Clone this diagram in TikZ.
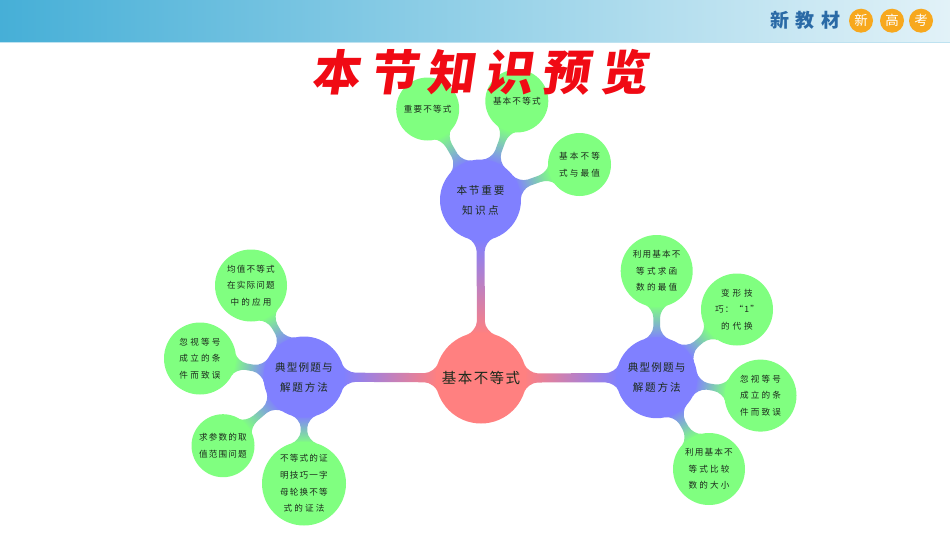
\documentclass[tikz,border=0pt]{standalone}
\usepackage{fontspec}
\setmainfont{Noto Sans CJK SC}
\usetikzlibrary{calc,backgrounds}
\definecolor{rootc}{HTML}{FF8080}
\definecolor{hubc}{HTML}{8080FF}
\definecolor{leafc}{HTML}{80FF80}
\definecolor{inkc}{HTML}{1C2A1C}
\definecolor{brandc}{HTML}{2A6AA6}
\definecolor{titlec}{HTML}{F00A14}
\definecolor{bandl}{HTML}{46AFD7}
\definecolor{bandm}{HTML}{8CD0E9}
\definecolor{bandr}{HTML}{E2F2F8}
\definecolor{bandline}{HTML}{BEE2F0}
\definecolor{badgec}{HTML}{F7A81E}
\newcommand\LS[2]{{\addfontfeature{LetterSpace=#1}#2}}
\newcommand\Lv[1]{\LS{13.4}{#1}}
\newcommand\Liv[1]{\LS{25.6}{#1}}
\newcommand\Liii[1]{\LS{33.7}{#1}}
\newcommand\Hv[1]{\LS{11}{#1}}
\newcommand\Hiv[1]{\LS{17}{#1}}
\newcommand\Hiii[1]{\LS{23}{#1}}
% tapered gradient connector: node A, radius, colour, node B, radius, colour, neck half width
\newcommand\branch[7]{%
  \path let \p1=($(#4)-(#1)$), \n1={atan2(\y1,\x1)}, \n2={veclen(\x1,\y1)} in
    \pgfextra{\xdef\brAng{\n1}\xdef\brLen{\n2}};
  \pgfmathsetmacro\brD{\brLen/1pt}
  \pgfmathsetmacro\brGap{\brD-#2-#5}
  \pgfmathsetmacro\brL{min(\brGap*0.42,11)}
  \pgfmathsetmacro\fA{#2*0.3}
  \pgfmathsetmacro\fB{#5*0.3}
  \pgfmathsetmacro\xA{sqrt(#2*#2-\fA*\fA)}
  \pgfmathsetmacro\xB{\brD-sqrt(#5*#5-\fB*\fB)}
  \pgfmathsetmacro\kA{0.45*(\fA-#7)}
  \pgfmathsetmacro\kB{0.45*(\fB-#7)}
  \pgfmathsetmacro\cAx{\xA+\kA*0.3}
  \pgfmathsetmacro\cAy{\fA-\kA*0.95}
  \pgfmathsetmacro\cBx{\xB-\kB*0.3}
  \pgfmathsetmacro\cBy{\fB-\kB*0.95}
  \pgfmathsetmacro\nA{#2+\brL}
  \pgfmathsetmacro\nB{\brD-#5-\brL}
  \pgfmathsetmacro\mA{#2+\brL*0.5}
  \pgfmathsetmacro\mB{\brD-#5-\brL*0.5}
  \begin{pgfonlayer}{background}
    \draw[line width=3pt,#3!50!#6] (#1) -- (#4);
    \begin{scope}[x=1pt,y=1pt,transform canvas={shift={(#1)},rotate=\brAng}]
      \shade[left color=#3,right color=#6]
        (\xA,\fA) .. controls (\cAx,\cAy) and (\mA,#7) .. (\nA,#7)
        -- (\nB,#7) .. controls (\mB,#7) and (\cBx,\cBy) .. (\xB,\fB)
        -- (\xB,-\fB) .. controls (\cBx,-\cBy) and (\mB,-#7) .. (\nB,-#7)
        -- (\nA,-#7) .. controls (\mA,-#7) and (\cAx,-\cAy) .. (\xA,-\fA) -- cycle;
    \end{scope}
  \end{pgfonlayer}}
\tikzset{
  leafa/.style={circle,fill=leafc,inner sep=0pt,minimum size=63pt,text=inkc,align=center,font=\fontsize{8.6}{16.7}\selectfont},
  leafb/.style={leafa,minimum size=72pt},
  leafd/.style={leafa,minimum size=84pt},
  hubn/.style={circle,fill=hubc,inner sep=0pt,minimum size=81pt,text=inkc,align=center,font=\fontsize{10.6}{20}\selectfont},
  rootn/.style={circle,fill=rootc,inner sep=0pt,minimum size=91pt,text=inkc,align=center,font=\fontsize{14.5}{18}\selectfont},
  badge/.style={circle,fill=badgec,inner sep=0pt,minimum size=24pt,text=white,font=\fontsize{13.5}{14}\selectfont},
  brand/.style={inner sep=0pt,text=brandc,font=\fontsize{19}{20}\selectfont\bfseries},
}
\begin{document}
\begin{tikzpicture}[x=1pt,y=-1pt]
\useasboundingbox (0,0) rectangle (950,535);
\begin{pgfonlayer}{background}
\fill[white] (0,0) rectangle (950,535);
\end{pgfonlayer}
% header band
\shade[left color=bandl,middle color=bandm,right color=bandr] (0,0) rectangle (950,42);
\fill[bandline] (0,42) rectangle (950,43.2);
\node[brand] (b1) at (779.5,20) {新};
\node[brand] (b2) at (804.5,20) {教};
\node[brand] (b3) at (831,20) {材};
\node[badge] (c1) at (861,20.7) {新};
\node[badge] (c2) at (892,20.7) {高};
\node[badge] (c3) at (921,20.7) {考};
% root and hubs
\node[rootn] (root) at (481,378) {\LS{10}{基本不等式}};
\node[hubn] (top) at (480.5,200) {\Hiv{本节重要}\\\Hiii{知识点}};
\node[hubn] (left) at (304,377) {\Hv{典型例题与}\\\Hiv{解题方法}};
\node[hubn] (right) at (656.7,377.7) {\Hv{典型例题与}\\\Hiv{解题方法}};
% top leaves
\node[leafa] (t1) at (427.7,109) {\Lv{重要不等式}};
\node[leafa] (t2) at (516.8,101) {\Lv{基本不等式}};
\node[leafa] (t3) at (579.5,164.5) {\Liv{基本不等}\\\Liv{式与最值}};
% left leaves
\node[leafb] (l1) at (251,285.5) {\Lv{均值不等式}\\\Lv{在实际问题}\\\Liv{中的应用}};
\node[leafb] (l2) at (200,358.5) {\Liv{忽视等号}\\\Liv{成立的条}\\\Liv{件而致误}};
\node[leafa] (l3) at (223,445.7) {\Lv{求参数的取}\\\Lv{值范围问题}};
\node[leafd] (l4) at (304,483.5) {\Lv{不等式的证}\\\Lv{明技巧一字}\\\Lv{母轮换不等}\\\Liv{式的证法}};
% right leaves
\node[leafb] (r1) at (656.7,271) {\Lv{利用基本不}\\\Liv{等式求函}\\\Liv{数的最值}};
\node[leafb] (r2) at (737,309.5) {\Liii{变形技}\\\LS{14}{巧：“1”}\\\Liii{的代换}};
\node[leafb] (r3) at (760.5,395.6) {\Liv{忽视等号}\\\Liv{成立的条}\\\Liv{件而致误}};
\node[leafb] (r4) at (709,469) {\Lv{利用基本不}\\\Liv{等式比较}\\\Liv{数的大小}};
% connectors
\branch{root}{45.5}{rootc}{top}{40.5}{hubc}{4}
\branch{root}{45.5}{rootc}{left}{40.5}{hubc}{4.6}
\branch{root}{45.5}{rootc}{right}{40.5}{hubc}{4.6}
\branch{top}{40.5}{hubc}{t1}{31.5}{leafc}{3.3}
\branch{top}{40.5}{hubc}{t2}{31.5}{leafc}{3.3}
\branch{top}{40.5}{hubc}{t3}{31.5}{leafc}{3.3}
\branch{left}{40.5}{hubc}{l1}{36}{leafc}{3.3}
\branch{left}{40.5}{hubc}{l2}{36}{leafc}{3.3}
\branch{left}{40.5}{hubc}{l3}{31.5}{leafc}{3.3}
\branch{left}{40.5}{hubc}{l4}{42}{leafc}{3.3}
\branch{right}{40.5}{hubc}{r1}{36}{leafc}{3.3}
\branch{right}{40.5}{hubc}{r2}{36}{leafc}{3.3}
\branch{right}{40.5}{hubc}{r3}{36}{leafc}{3.3}
\branch{right}{40.5}{hubc}{r4}{36}{leafc}{3.3}
% title on top
\node[inner sep=0pt,text=titlec,font=\fontsize{48}{52}\selectfont\bfseries] (title) at (479.5,72)
  {\addfontfeature{LetterSpace=20,FakeSlant=0.15}本节知识预览};
\end{tikzpicture}
\end{document}
